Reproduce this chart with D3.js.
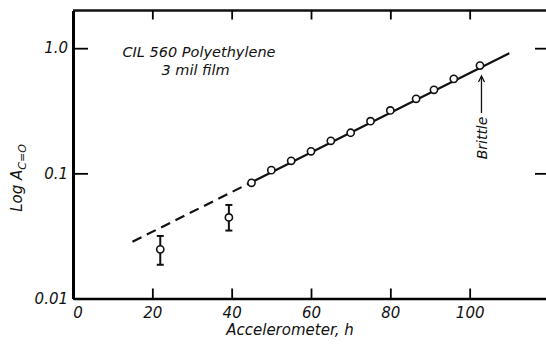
<!DOCTYPE html>
<html>
<head>
<meta charset="utf-8">
<script src="https://cdn.jsdelivr.net/npm/d3@7"></script>
<style>
  body { margin: 0; background: #fff; }
  svg { display: block; }
  text { font-family: "DejaVu Sans", sans-serif; font-style: italic; fill: #111; }
</style>
</head>
<body>
<svg id="chart" width="546" height="344"></svg>
<script>
// measured points (accelerometer hours vs absorbance)
var hours = [45, 50, 55, 60, 65, 70, 75, 80, 86.5, 91, 96, 102.6];
var absorb = [0.084, 0.106, 0.126, 0.150, 0.182, 0.211, 0.261, 0.318, 0.394, 0.465, 0.569, 0.726];

// early points with error bars
var errHours = [22, 39.3];
var errMid = [0.0247, 0.0444];
var errLow = [0.0186, 0.0349];
var errHigh = [0.0316, 0.0559];

// fitted line: dashed part then solid part
var dashHours = [15, 45];
var dashVals = [0.0284, 0.085];
var solidHours = [45, 110];
var solidVals = [0.085, 0.91];

var xTicks = [0, 20, 40, 60, 80, 100];
var yTicks = [0.01, 0.1, 1];
var yTickLabels = ["0.01", "0.1", "1.0"];

var svg = d3.select("#chart");
var x = d3.scaleLinear().domain([0, 120]).range([73, 549]);
var y = d3.scaleLog().domain([0.01, 2]).range([298.5, 10.5]);

// frame
svg.append("line").attr("x1", x(0)).attr("x2", x(120)).attr("y1", y(2)).attr("y2", y(2))
  .attr("stroke", "#111").attr("stroke-width", 2.5);

var xb = svg.append("g").attr("transform", "translate(0," + y(0.01) + ")")
  .call(d3.axisBottom(x).tickValues(xTicks.slice(1)).tickSizeInner(-10).tickSizeOuter(0).tickPadding(9));
xb.select(".domain").attr("stroke-width", 2.5);
xb.selectAll(".tick line").attr("stroke-width", 1.8);
xb.selectAll("text").attr("font-size", 15).attr("font-family", null);

// the "0" label under the corner
svg.append("text").attr("x", x(0) + 5).attr("y", 318).attr("text-anchor", "middle")
  .attr("font-size", 15).text("0");

var xt = svg.append("g").attr("transform", "translate(0," + y(2) + ")")
  .call(d3.axisTop(x).tickValues(xTicks.slice(1)).tickSizeInner(-9).tickSizeOuter(0).tickFormat(""));
xt.select(".domain").remove();
xt.selectAll(".tick line").attr("stroke-width", 1.8);

var yl = svg.append("g").attr("transform", "translate(" + x(0) + ",0)")
  .call(d3.axisLeft(y).tickValues(yTicks).tickSizeInner(-15).tickSizeOuter(0).tickPadding(5)
    .tickFormat(function(d, i) { return yTickLabels[i]; }));
yl.select(".domain").attr("stroke-width", 3);
yl.selectAll(".tick line").attr("stroke-width", 1.8);
yl.selectAll("text").attr("font-size", 15).attr("font-family", null);

var yr = svg.append("g").attr("transform", "translate(" + x(120) + ",0)")
  .call(d3.axisRight(y).tickValues(yTicks.slice(1)).tickSizeInner(-14).tickSizeOuter(0).tickFormat(""));
yr.select(".domain").attr("stroke-width", 2.5);
yr.selectAll(".tick line").attr("stroke-width", 1.8);

// fit line
var line = d3.line().x(function(d) { return x(d[0]); }).y(function(d) { return y(d[1]); });
svg.append("path").datum(d3.zip(dashHours, dashVals)).attr("d", line)
  .attr("fill", "none").attr("stroke", "#111").attr("stroke-width", 2.2).attr("stroke-dasharray", "10,6");
svg.append("path").datum(d3.zip(solidHours, solidVals)).attr("d", line)
  .attr("fill", "none").attr("stroke", "#111").attr("stroke-width", 2.2);

// error bars
errHours.forEach(function(h, i) {
  svg.append("line").attr("x1", x(h)).attr("x2", x(h)).attr("y1", y(errLow[i])).attr("y2", y(errHigh[i]))
    .attr("stroke", "#111").attr("stroke-width", 2);
  [errLow[i], errHigh[i]].forEach(function(v) {
    svg.append("line").attr("x1", x(h) - 3.5).attr("x2", x(h) + 3.5).attr("y1", y(v)).attr("y2", y(v))
      .attr("stroke", "#111").attr("stroke-width", 2);
  });
});

// open circles
svg.selectAll("circle.pt").data(d3.zip(hours, absorb).concat(d3.zip(errHours, errMid)))
  .enter().append("circle").attr("class", "pt")
  .attr("cx", function(d) { return x(d[0]); })
  .attr("cy", function(d) { return y(d[1]); })
  .attr("r", 3.6).attr("fill", "#fff").attr("stroke", "#111").attr("stroke-width", 1.6);

// brittle arrow
var bx = x(hours[hours.length - 1]) + 1.5;
svg.append("line").attr("x1", bx).attr("x2", bx).attr("y1", 113).attr("y2", 77)
  .attr("stroke", "#111").attr("stroke-width", 1.3);
svg.append("path").attr("d", "M" + (bx - 3) + ",82 L" + bx + ",76 L" + (bx + 3) + ",82")
  .attr("fill", "none").attr("stroke", "#111").attr("stroke-width", 1.3);
svg.append("text").attr("transform", "translate(487,138) rotate(-90)")
  .attr("text-anchor", "middle").attr("font-size", 14).text("Brittle");

// annotation
svg.append("text").attr("x", 199).attr("y", 57).attr("text-anchor", "middle")
  .attr("font-size", 14.5).text("CIL 560 Polyethylene");
svg.append("text").attr("x", 195.5).attr("y", 75).attr("text-anchor", "middle")
  .attr("font-size", 14.5).text("3 mil film");

// axis titles
svg.append("text").attr("x", 290).attr("y", 335).attr("text-anchor", "middle")
  .attr("font-size", 15).text("Accelerometer, h");

var yt = svg.append("text").attr("transform", "translate(22,178) rotate(-90)")
  .attr("text-anchor", "middle").attr("font-size", 15);
yt.append("tspan").text("Log A");
yt.append("tspan").attr("font-size", 11).attr("dy", 4).text("C=O");
</script>
</body>
</html>
